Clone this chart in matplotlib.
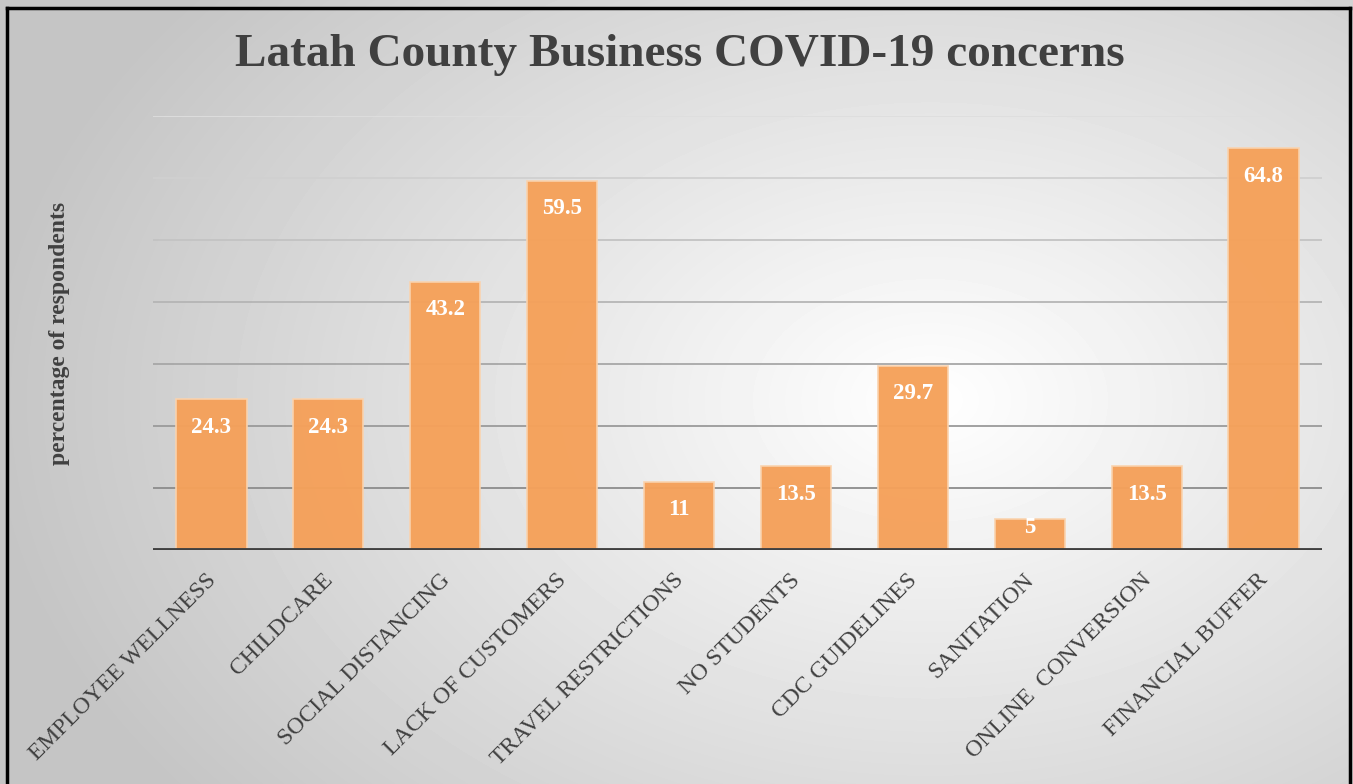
import numpy as np
import matplotlib
matplotlib.use("Agg")
import matplotlib.pyplot as plt
import matplotlib.transforms as mtransforms

# Data
categories = ["EMPLOYEE WELLNESS", "CHILDCARE", "SOCIAL DISTANCING", "LACK OF CUSTOMERS",
              "TRAVEL RESTRICTIONS", "NO STUDENTS", "CDC GUIDELINES", "SANITATION",
              "ONLINE  CONVERSION", "FINANCIAL BUFFER"]
values = [24.3, 24.3, 43.2, 59.5, 11, 13.5, 29.7, 5, 13.5, 64.8]
value_labels = ["24.3", "24.3", "43.2", "59.5", "11", "13.5", "29.7", "5", "13.5", "64.8"]
grid_levels = [10, 20, 30, 40, 50, 60, 70]

plt.rcParams['font.family'] = ['Liberation Serif', 'DejaVu Serif']

W, H = 1353, 784
fig = plt.figure(figsize=(W / 100, H / 100), dpi=100)

# radial gradient background
bg = fig.add_axes([0, 0, 1, 1], zorder=-10)
yy, xx = np.mgrid[0:H, 0:W]
r = np.sqrt(((xx - 930) / 950.0) ** 2 + ((yy - 400) / 650.0) ** 2)
shade = np.clip(1.0 - 0.23 * r, 0.77, 1.0)
bg.imshow(shade, cmap="gray", vmin=0, vmax=1, aspect="auto", extent=[0, W, H, 0])
bg.set_xlim(0, W)
bg.set_ylim(H, 0)
bg.axis("off")
# frame border
bg.plot([7, 7], [H, 8], color="black", lw=2.5)
bg.plot([7, 1350], [8, 8], color="black", lw=2.5)
bg.plot([1350, 1350], [8, H], color="black", lw=2.5)

ax = fig.add_axes([153 / W, 1 - 550 / H, (1322 - 153) / W, (550 - 116) / H])
ax.patch.set_alpha(0)

x = np.arange(len(categories))
ax.bar(x, values, width=0.6, color="#F5A15A", edgecolor="#FAD3AE",
       linewidth=1.2, zorder=3, alpha=0.97)

# gridlines, lighter toward the top
for g in grid_levels:
    t = (g - 10) / 60.0
    c = 0.55 + 0.32 * t
    ax.axhline(g, color=(c, c, c), lw=1.3, zorder=1)

ax.axhline(0, color="#404040", lw=3.5, zorder=4)

# labels sit inside the bar end; short bars get them pushed up to the top
for xi, v, lab in zip(x, values, value_labels):
    off = -20 if v > 8 else -6
    ax.annotate(lab, (xi, v), xytext=(0, off), textcoords="offset points",
                ha="center", va="center", color="white", fontsize=16.5,
                fontweight="bold", zorder=5)

ax.set_xlim(-0.5, len(categories) - 0.5)
ax.set_ylim(0, 70)
ax.set_yticks([])
ax.set_xticks(x)
ax.set_xticklabels(categories, rotation=45, ha="right", rotation_mode="anchor",
                   fontsize=17, color="#404040")
ax.tick_params(axis="x", length=0, pad=14)
shift = mtransforms.ScaledTranslation(-6 / 100, 0, fig.dpi_scale_trans)
for lbl in ax.get_xticklabels():
    lbl.set_transform(lbl.get_transform() + shift)
for s in ax.spines.values():
    s.set_visible(False)

fig.text(60 / W, 1 - 333 / H, "percentage of respondents", rotation=90,
         ha="center", va="center", fontsize=17, fontweight="bold", color="#404040")
fig.text(680 / W, 1 - 55 / H, "Latah County Business COVID-19 concerns",
         ha="center", va="center", fontsize=34, fontweight="bold", color="#404040")

fig.savefig("out.png", dpi=100)
